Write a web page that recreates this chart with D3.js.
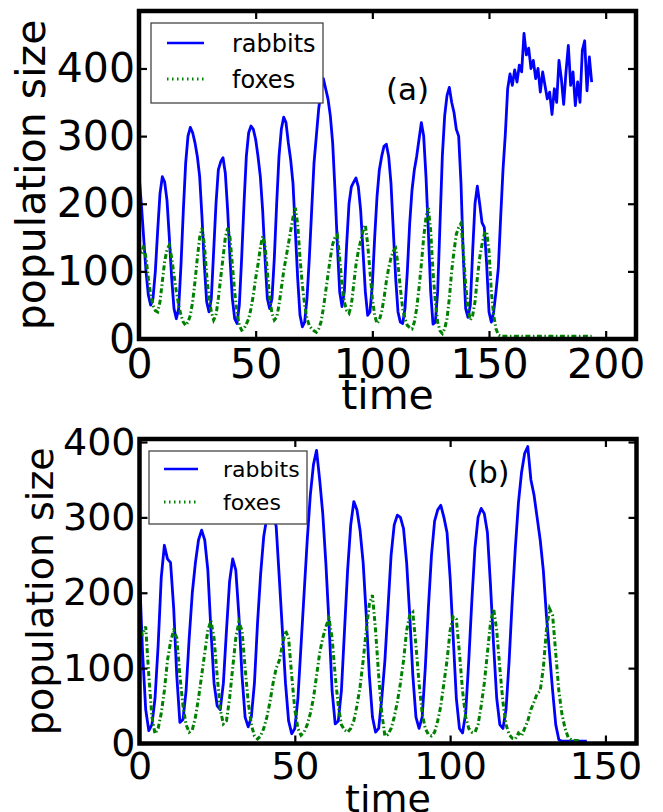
<!DOCTYPE html>
<html><head><meta charset="utf-8">
<script src="https://cdn.jsdelivr.net/npm/d3@7"></script>
<style>
body{margin:0;background:#fff}
svg{display:block}
text{font-family:"DejaVu Sans",sans-serif;fill:#000}
</style>
</head><body>
<svg id="c" width="663" height="812"></svg>
<script>
// ---------- data (time step = 1) ----------
const rabbitsA = [
244,200,150,100,65,50,60,100,160,215,
240,232,205,150,90,45,30,45,110,190,
260,300,313,305,290,270,240,180,110,55,
40,60,130,200,250,262,268,245,190,120,
60,30,23,50,120,200,270,305,315,310,
295,270,240,190,120,60,45,60,120,200,
270,310,328,320,290,265,230,160,90,35,
18,25,60,120,190,260,300,340,365,385,
370,355,330,290,220,140,70,48,70,140,
200,225,232,238,225,190,130,70,35,40,
80,150,210,250,270,285,288,270,230,160,
90,40,25,23,45,100,170,220,250,270,
295,320,300,240,160,70,22,25,70,170,
270,330,360,372,350,335,310,300,230,120,
45,32,50,130,200,226,200,172,165,110,
40,25,40,70,105,180,250,303,370,392,
375,398,380,405,395,452,420,430,400,412,
385,400,365,395,375,355,365,332,370,350,
412,385,347,395,434,375,395,345,380,350,
427,441,367,417,380];
const foxesA = [
134,125,138,120,90,65,50,42,40,55,
85,115,132,139,120,95,70,50,35,25,
20,25,35,55,85,120,150,164,140,95,
60,40,28,35,60,90,120,150,164,150,
110,70,40,20,13,15,22,30,45,65,
90,110,135,152,140,100,60,38,28,32,
50,75,100,120,140,160,180,194,170,120,
80,50,30,20,15,12,10,15,25,45,
70,95,120,140,150,154,120,80,55,42,
38,50,80,110,130,145,160,169,140,100,
60,35,23,28,40,60,85,105,120,130,
134,110,75,45,30,20,17,15,25,45,
75,110,150,180,194,160,100,55,25,12,
8,15,30,60,100,130,155,165,171,130,
80,45,28,35,55,90,120,140,155,159,
130,70,35,15,6,4,4,4,4,4,
4,4,4,4,4,4,4,4,4,4,
4,4,4,4,4,4,4,4,4,4,
4,4,4,4,4,4,4,4,4,4,
4,4,4,4,4];
const rabbitsB = [
225,120,45,17,25,60,130,220,263,245,
240,180,90,28,32,70,140,200,240,270,
283,270,230,150,80,50,45,80,150,215,
245,230,170,90,35,22,35,80,160,225,
275,300,310,305,288,220,150,80,30,13,
20,60,130,200,270,330,370,389,350,305,
239,160,70,26,30,70,150,230,290,321,
310,283,240,170,90,35,15,20,60,110,
180,250,290,303,300,285,240,170,90,35,
20,35,100,180,250,295,310,316,300,280,
220,140,60,20,14,40,110,190,260,300,
312,305,280,210,130,60,25,20,45,110,
190,260,320,360,385,394,350,330,300,270,
230,170,120,70,25,5,3,3,3,3,
3,3,3,3,3];
const foxesB = [
150,145,155,90,35,13,20,40,70,110,
135,150,140,90,50,25,15,18,35,60,
90,120,150,163,140,90,45,26,30,60,
100,140,161,150,100,55,25,10,6,10,
20,35,55,80,100,110,130,150,140,90,
45,20,11,15,25,40,60,90,120,140,
155,166,140,90,50,25,18,15,20,30,
50,75,110,150,185,197,150,90,40,10,
12,20,35,55,80,110,150,170,174,130,
80,40,20,12,10,15,30,50,80,110,
150,168,165,120,70,35,20,15,15,25,
50,80,120,160,179,150,100,55,25,12,
7,6,14,10,20,30,45,55,66,70,
100,150,179,170,120,70,39,20,8,5,
4,4,4];
const xTicksA = [0,50,100,150,200];
const xTicksB = [0,50,100,150];
const yTicks = [0,100,200,300,400];
const seriesNames = ["rabbits","foxes"];
const panelTags = ["(a)","(b)"];
const xLabel = "time", yLabel = "population size";

// ---------- drawing ----------
const svg = d3.select("#c");
const BLUE = "#0000ff", GREEN = "#008000";

function panel(cfg){
  const g = svg.append("g");
  const x = d3.scaleLinear().domain(cfg.xDom).range([cfg.l, cfg.r]);
  const y = d3.scaleLinear().domain(cfg.yDom).range([cfg.b, cfg.t]);
  const id = "clip" + cfg.tag.replace(/\W/g,"");
  svg.append("clipPath").attr("id", id).append("rect")
    .attr("x", cfg.l).attr("y", cfg.t).attr("width", cfg.r-cfg.l).attr("height", cfg.b-cfg.t);
  const line = d3.line().x((d,i)=>x(i)).y(d=>y(d));
  const lg = g.append("g").attr("clip-path", `url(#${id})`);
  lg.append("path").datum(cfg.rab).attr("d", line)
    .attr("fill","none").attr("stroke",BLUE).attr("stroke-width",2.8).attr("stroke-linejoin","round");
  lg.append("path").datum(cfg.fox).attr("d", line)
    .attr("fill","none").attr("stroke",GREEN).attr("stroke-width",3)
    .attr("stroke-dasharray","5,2.5,1.5,2.5");

  const fs = cfg.fs;
  // axes with inward ticks
  const ax = (axis, tx, ty, labels) => {
    const a = g.append("g").attr("transform",`translate(${tx},${ty})`).call(axis);
    a.select(".domain").remove();
    a.selectAll(".tick line").attr("stroke","#000").attr("stroke-width",2.2);
    a.selectAll("text").style("font-size", fs+"px").attr("fill","#000");
    if(!labels) a.selectAll("text").remove();
    return a;
  };
  ax(d3.axisBottom(x).tickValues(cfg.xTicks).tickSize(-8).tickPadding(cfg.xPad), 0, cfg.b, true);
  ax(d3.axisTop(x).tickValues(cfg.xTicks).tickSize(-8), 0, cfg.t, false);
  ax(d3.axisLeft(y).tickValues(yTicks).tickSize(-8).tickPadding(4), cfg.l, 0, true);
  ax(d3.axisRight(y).tickValues(yTicks).tickSize(-8), cfg.r, 0, false);

  // frame
  g.append("rect").attr("x",cfg.l).attr("y",cfg.t).attr("width",cfg.r-cfg.l).attr("height",cfg.b-cfg.t)
    .attr("fill","none").attr("stroke","#000").attr("stroke-width",4.5);

  // labels
  g.append("text").attr("x",(cfg.l+cfg.r)/2).attr("y",cfg.xlY).attr("text-anchor","middle")
    .style("font-size",fs+"px").text(xLabel);
  g.append("text").attr("transform",`translate(${cfg.ylX},${(cfg.t+cfg.b)/2}) rotate(-90)`)
    .attr("text-anchor","middle").style("font-size",fs+"px").text(yLabel);
  g.append("text").attr("x",cfg.tagX).attr("y",cfg.tagY).style("font-size",cfg.tagFs+"px").text(cfg.tag);

  // legend
  const L = cfg.leg;
  g.append("rect").attr("x",L.x).attr("y",L.y).attr("width",L.w).attr("height",L.h)
    .attr("fill","#fff").attr("stroke","#444").attr("stroke-width",1.3);
  const cols = [BLUE, GREEN];
  seriesNames.forEach((nm,i)=>{
    const yy = L.rows[i];
    const ln = g.append("line").attr("x1",L.lx1).attr("x2",L.lx2).attr("y1",yy).attr("y2",yy)
      .attr("stroke",cols[i]).attr("stroke-width", i? 3 : 2.6);
    if(i) ln.attr("stroke-dasharray","1.5,3.5");
    g.append("text").attr("x",L.tx).attr("y",yy+L.dy).style("font-size",L.fs+"px").text(nm);
  });
}

panel({tag:panelTags[0], rab:rabbitsA, fox:foxesA, xDom:[0,213], yDom:[0,485],
  l:139, r:636, t:11, b:339, xTicks:xTicksA, fs:41, xPad:10, xlY:409, ylX:45,
  tagX:386, tagY:100, tagFs:31,
  leg:{x:151,y:23,w:172,h:80,lx1:167,lx2:204,rows:[43,79],tx:232,dy:8.5,fs:24}});

panel({tag:panelTags[1], rab:rabbitsB, fox:foxesB, xDom:[0,160], yDom:[0,404],
  l:139.5, r:636.5, t:439, b:743.5, xTicks:xTicksB, fs:38, xPad:8.5, xlY:812, ylX:53,
  tagX:467, tagY:483, tagFs:30,
  leg:{x:149,y:451,w:158,h:73,lx1:164,lx2:198,rows:[469,502],tx:223,dy:8,fs:22}});
</script>
</body></html>
